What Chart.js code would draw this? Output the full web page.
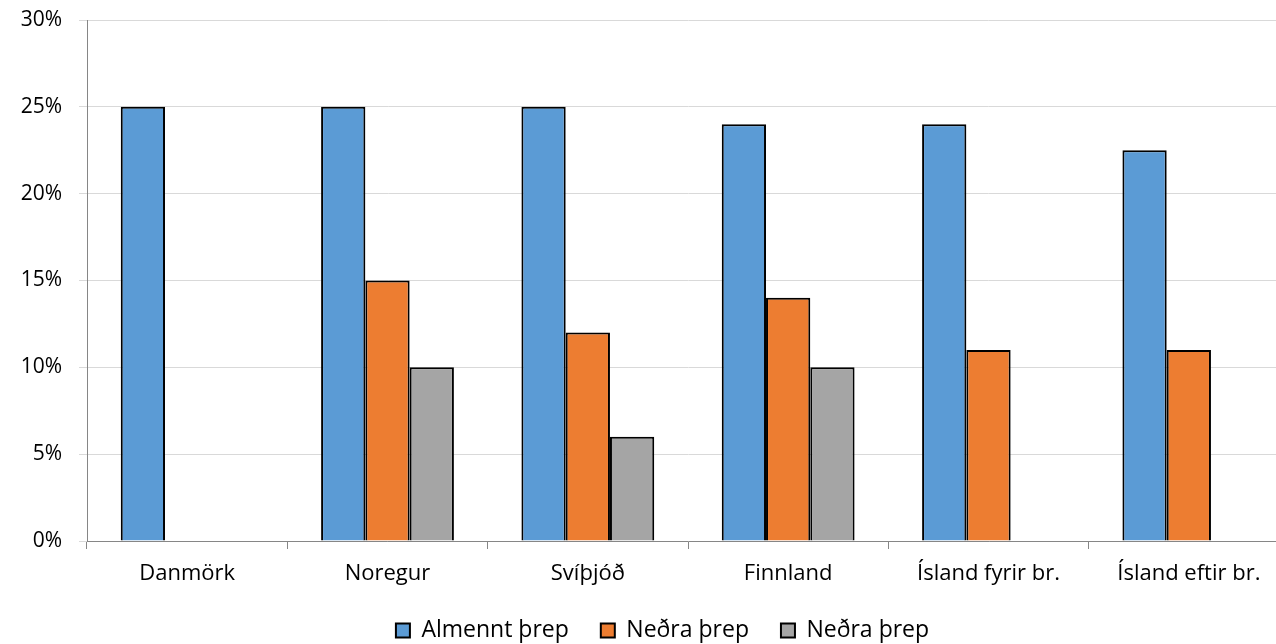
<!DOCTYPE html>
<html>
<head>
<meta charset="utf-8">
<script src="https://cdn.jsdelivr.net/npm/chart.js@4.4.0/dist/chart.umd.min.js"></script>
<style>
html, body { margin: 0; padding: 0; background: #fff; overflow: hidden; }
#wrap { position: absolute; left: 0; top: 0; }
</style>
</head>
<body>
<div id="wrap"><canvas id="taxChart" width="1324" height="652"></canvas></div>
<script>
// Categories and series (VAT rates, %)
var countries = ["Danmörk", "Noregur", "Svíþjóð", "Finnland", "Ísland fyrir br.", "Ísland eftir br."];
var almenntThrep = [25, 25, 25, 24, 24, 22.5];
var nedraThrep1 = [null, 15, 12, 14, 11, 11];
var nedraThrep2 = [null, 10, 6, 10, null, null];
var yTicks = [0, 5, 10, 15, 20, 25, 30];

var fontFamily = "'Open Sans', 'Lato', sans-serif";

function makeDataset(label, values, color)
{
    return {
        label: label,
        data: values,
        backgroundColor: color,
        borderColor: '#000000',
        borderWidth: 2,
        categoryPercentage: 0.663,
        barPercentage: 1.0
    };
}

// The legend in the original is centred on the whole chart, not on the plot area
var legendShift = {
    id: 'legendShift',
    afterLayout: function(chart) {
        chart.legend.left += 18;
        chart.legend.right += 18;
    }
};

var chartCanvas = document.getElementById('taxChart');

var taxChart = new Chart(chartCanvas, {
    type: 'bar',
    data: {
        labels: countries,
        datasets: [
            makeDataset('Almennt þrep', almenntThrep, '#5B9BD5'),
            makeDataset('Neðra þrep', nedraThrep1, '#ED7D31'),
            makeDataset('Neðra þrep', nedraThrep2, '#A5A5A5')
        ]
    },
    plugins: [legendShift],
    options: {
        responsive: false,
        animation: false,
        layout: {
            padding: { top: 20, left: 0, right: 35, bottom: 0 }
        },
        plugins: {
            legend: {
                display: true,
                position: 'bottom',
                labels: {
                    boxWidth: 14,
                    boxHeight: 14,
                    padding: 32,
                    color: '#000',
                    font: { family: fontFamily, size: 23 }
                }
            },
            tooltip: { enabled: false }
        },
        scales: {
            x: {
                afterFit: function(axis) { axis.height = 46; },
                grid: {
                    display: true,
                    offset: true,
                    drawOnChartArea: false,
                    drawTicks: true,
                    tickLength: 8,
                    color: '#868686'
                },
                border: { color: '#868686', width: 1 },
                ticks: {
                    color: '#000',
                    padding: 12,
                    maxRotation: 0,
                    font: { family: fontFamily, size: 22 }
                }
            },
            y: {
                min: 0,
                max: 30,
                afterFit: function(axis) {
                    // fixed axis width; drop the label overhang so the plot top sits at 20px
                    axis.width = 87;
                    axis.paddingTop = 0;
                    axis.paddingBottom = 0;
                },
                afterBuildTicks: function(axis) {
                    axis.ticks = yTicks.map(function(v) { return { value: v }; });
                },
                grid: {
                    color: '#D9D9D9',
                    tickLength: 8
                },
                border: { color: '#868686', width: 1 },
                ticks: {
                    color: '#000',
                    padding: 17,
                    font: { family: fontFamily, size: 21 },
                    callback: function(value) {
                        return value + '%';
                    }
                }
            }
        }
    }
});
</script>
</body>
</html>
